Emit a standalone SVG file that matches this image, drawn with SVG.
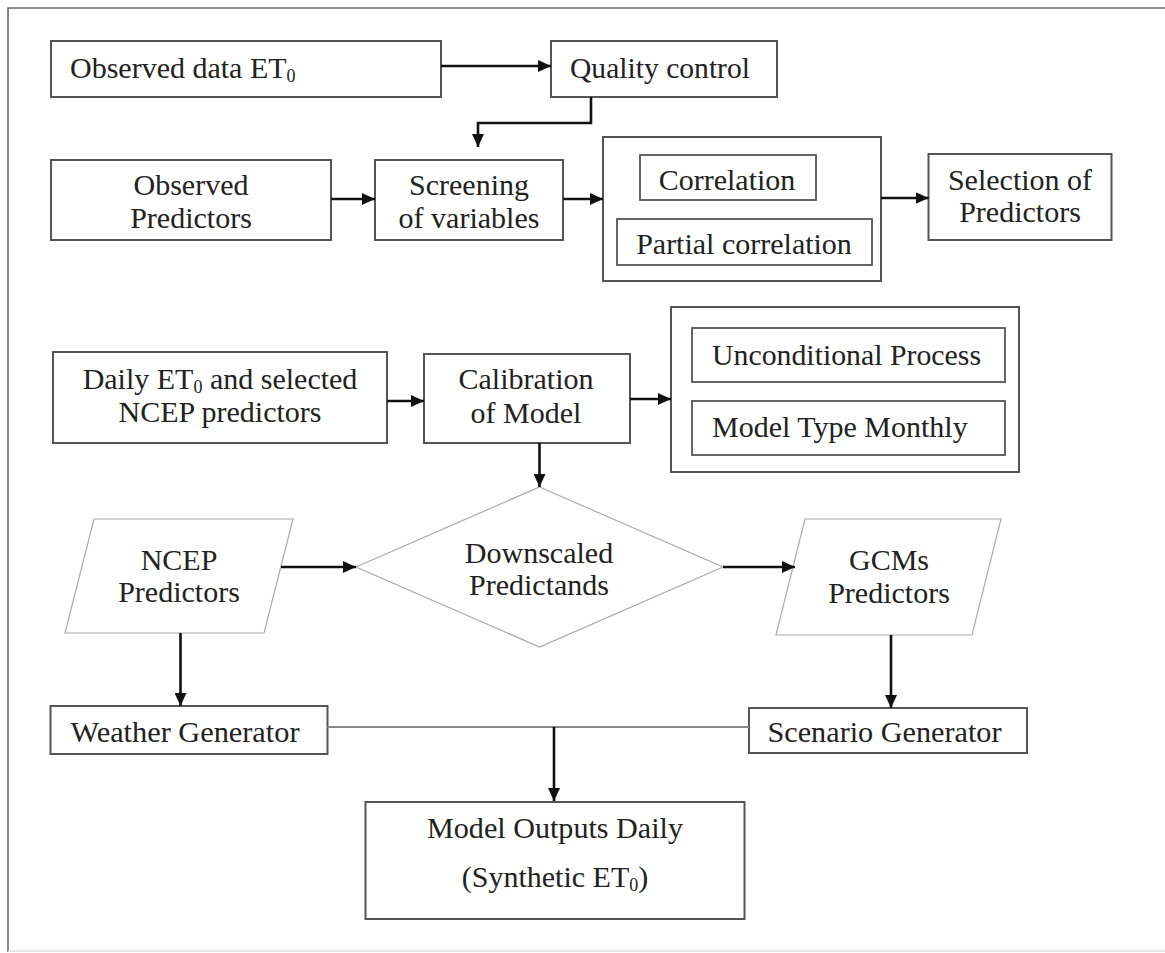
<svg xmlns="http://www.w3.org/2000/svg" width="1165" height="953" viewBox="0 0 1165 953">
<style>
.box{fill:#fff;stroke:#555;stroke-width:2}
.inner{fill:#fff;stroke:#555;stroke-width:1.8}
.dia{fill:#fff;stroke:#aaa;stroke-width:1.2}
.t{font-family:"Liberation Serif","Times New Roman",serif;font-size:30px;fill:#222}
.m{text-anchor:middle}
.sub{font-size:18px}
.c{fill:none;stroke:#111;stroke-width:2.6}
.ln{fill:none;stroke:#888;stroke-width:2}
</style>
<defs>
<marker id="ah" viewBox="0 0 13 12" refX="13" refY="6" markerWidth="13" markerHeight="12" markerUnits="userSpaceOnUse" orient="auto">
<path d="M0,0 L13,6 L0,12 z" fill="#111"/>
</marker>
</defs>
<rect width="1165" height="953" fill="#fff"/>
<g id="frame">
<path d="M8,952 L8,8 L1165,8" fill="none" stroke="#666" stroke-width="1.6"/>
<path d="M8,951 L1165,951" fill="none" stroke="#ddd" stroke-width="1.5"/>
</g>
<g id="obs_data">
<rect class="box" x="51" y="41" width="390" height="56"/>
<text class="t" x="70" y="78">Observed data ET<tspan class="sub" dy="4">0</tspan></text>
</g>
<g id="quality">
<rect class="box" x="551" y="41" width="226" height="56"/>
<text class="t" x="570" y="78" textLength="180" lengthAdjust="spacingAndGlyphs">Quality control</text>
</g>
<g id="obs_pred">
<rect class="box" x="51" y="160" width="280" height="80"/>
<text class="t m" x="191" y="195">Observed</text>
<text class="t m" x="191" y="228">Predictors</text>
</g>
<g id="screening">
<rect class="box" x="375" y="160" width="188" height="80"/>
<text class="t m" x="469" y="195">Screening</text>
<text class="t m" x="469" y="228">of variables</text>
</g>
<g id="corr_group">
<rect class="box" x="603" y="137" width="278" height="144"/>
<rect class="inner" x="640" y="155" width="176" height="45"/>
<text class="t m" x="727" y="190">Correlation</text>
<rect class="inner" x="617" y="219" width="255" height="46"/>
<text class="t m" x="744" y="254">Partial correlation</text>
</g>
<g id="selection">
<rect class="box" x="928.5" y="154" width="183" height="86"/>
<text class="t m" x="1020" y="190">Selection of</text>
<text class="t m" x="1020" y="222">Predictors</text>
</g>
<g id="daily">
<rect class="box" x="53" y="352" width="334" height="91"/>
<text class="t m" x="220" y="389">Daily ET<tspan class="sub" dy="4">0</tspan><tspan dy="-4"> and selected</tspan></text>
<text class="t m" x="220" y="422">NCEP predictors</text>
</g>
<g id="calibration">
<rect class="box" x="424" y="354" width="206" height="89"/>
<text class="t m" x="526" y="389">Calibration</text>
<text class="t m" x="526" y="423">of Model</text>
</g>
<g id="model_group">
<rect class="box" x="671" y="307" width="348" height="165"/>
<rect class="inner" x="692" y="328" width="313" height="54"/>
<text class="t" x="712" y="365" textLength="269" lengthAdjust="spacingAndGlyphs">Unconditional Process</text>
<rect class="inner" x="692" y="401" width="313" height="54"/>
<text class="t" x="712" y="437">Model Type Monthly</text>
</g>
<g id="downscaled">
<polygon class="dia" points="539.5,487 723,567 539.5,647 356,567"/>
<text class="t m" x="539" y="563">Downscaled</text>
<text class="t m" x="539" y="595">Predictands</text>
</g>
<g id="ncep">
<polygon class="dia" points="94,519 293,519 264,633 65,633"/>
<text class="t m" x="179" y="570">NCEP</text>
<text class="t m" x="179" y="602">Predictors</text>
</g>
<g id="gcms">
<polygon class="dia" points="805,519 1001,519 972,635 776,635"/>
<text class="t m" x="889" y="570">GCMs</text>
<text class="t m" x="889" y="603">Predictors</text>
</g>
<g id="weather">
<rect class="box" x="50.5" y="706" width="277" height="48"/>
<text class="t" x="70.5" y="742" textLength="229" lengthAdjust="spacingAndGlyphs">Weather Generator</text>
</g>
<g id="scenario">
<rect class="box" x="749" y="708" width="278" height="45"/>
<text class="t" x="767.5" y="742" textLength="234" lengthAdjust="spacingAndGlyphs">Scenario Generator</text>
</g>
<g id="outputs">
<rect class="box" x="365.5" y="802" width="379" height="117"/>
<text class="t m" x="555" y="838" textLength="256" lengthAdjust="spacingAndGlyphs">Model Outputs Daily</text>
<text class="t m" x="555" y="887">(Synthetic ET<tspan class="sub" dy="4">0</tspan><tspan dy="-4">)</tspan></text>
</g>
<g id="connectors">
<path class="c" d="M441,66 L551,66" marker-end="url(#ah)"/>
<path class="c" d="M591,97 V123 H478 V147" marker-end="url(#ah)"/>
<path class="c" d="M331,199 L375,199" marker-end="url(#ah)"/>
<path class="c" d="M563,199 L603,199" marker-end="url(#ah)"/>
<path class="c" d="M881,198 L928.5,198" marker-end="url(#ah)"/>
<path class="c" d="M387,401 L424,401" marker-end="url(#ah)"/>
<path class="c" d="M630,399 L671,399" marker-end="url(#ah)"/>
<path class="c" d="M539.5,443 L539.5,487" marker-end="url(#ah)"/>
<path class="c" d="M281,567 L356,567" marker-end="url(#ah)"/>
<path class="c" d="M723,567 L795,567" marker-end="url(#ah)"/>
<path class="c" d="M180.5,633 L180.5,706" marker-end="url(#ah)"/>
<path class="c" d="M891,635 L891,708" marker-end="url(#ah)"/>
<path class="ln" d="M327.5,727 L749,727"/>
<path class="c" d="M554,727 L554,801" marker-end="url(#ah)"/>
</g>
</svg>
